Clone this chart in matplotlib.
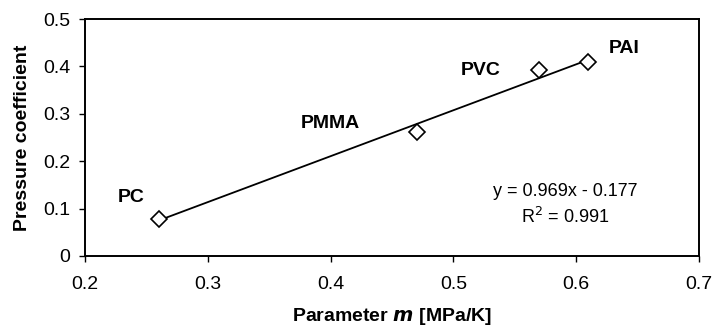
import matplotlib
matplotlib.use("Agg")
import matplotlib.pyplot as plt
import numpy as np

plt.rcParams["font.family"] = ["Liberation Sans", "DejaVu Sans"]

# Polymer data: parameter m [MPa/K] vs pressure coefficient
names = ["PC", "PMMA", "PVC", "PAI"]
m_param = [0.26, 0.47, 0.57, 0.61]
p_coef = [0.078, 0.262, 0.393, 0.410]

# Linear fit reported on the chart
slope = 0.969
intercept = -0.177
r2 = 0.991

xticks = [0.2, 0.3, 0.4, 0.5, 0.6, 0.7]
yticks = [0, 0.1, 0.2, 0.3, 0.4, 0.5]


def main():
    fig = plt.figure(figsize=(7.14, 3.30), dpi=100)
    ax = fig.add_axes([85 / 714, 1 - 256 / 330, 614 / 714, 237 / 330])

    xf = np.array([min(m_param), max(m_param)])
    ax.plot(xf, slope * xf + intercept, color="black", lw=1.3, zorder=2)
    ax.plot(m_param, p_coef, linestyle="none", marker="D", markersize=8,
            markerfacecolor="white", markeredgecolor="black",
            markeredgewidth=1.2, zorder=3)

    # label offsets from each point, data units (text placement only)
    offs = {"PC": (-0.0225, 0.046), "PMMA": (-0.07, 0.0165),
            "PVC": (-0.0475, -0.001), "PAI": (0.029, 0.027)}
    for n, x, y in zip(names, m_param, p_coef):
        dx, dy = offs[n]
        ax.text(x + dx, y + dy, n, fontsize=14, fontweight="bold",
                ha="center", va="center")

    ax.text(0.591, 0.137, "y = 0.969x - 0.177", fontsize=13, ha="center",
            va="center")
    ax.text(0.591, 0.082, "R$^2$ = %.3f" % r2, fontsize=13, ha="center",
            va="center")

    ax.set_xlim(0.2, 0.7)
    ax.set_ylim(0, 0.5)
    ax.set_xticks(xticks)
    ax.set_yticks(yticks)
    ax.set_xticklabels(["%g" % t for t in xticks])
    ax.set_yticklabels(["%g" % t for t in yticks])
    ax.tick_params(direction="out", length=4.5, width=1, labelsize=14)
    ax.tick_params(axis="x", pad=10)
    ax.tick_params(axis="y", pad=6)
    for s in ax.spines.values():
        s.set_linewidth(1.4)

    ax.set_xlabel("Parameter $\\bfit{m}$ [MPa/K]", fontsize=14,
                  fontweight="bold", labelpad=9)
    ax.set_ylabel("Pressure coefficient", fontsize=14, fontweight="bold",
                  labelpad=9)

    fig.savefig("out.png", dpi=100)


if __name__ == "__main__":
    main()
